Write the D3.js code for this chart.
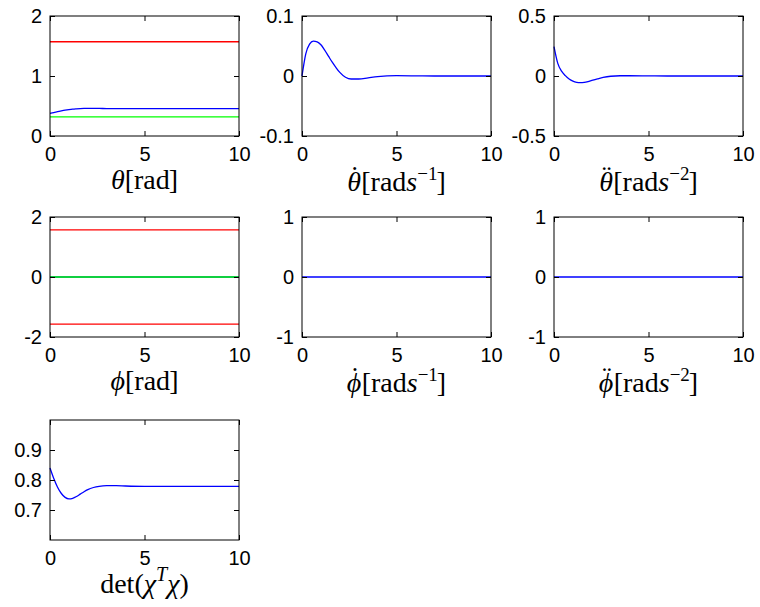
<!DOCTYPE html>
<html>
<head>
<meta charset="utf-8">
<script src="https://cdn.jsdelivr.net/npm/d3@7"></script>
<style>
  body { margin: 0; background: #fff; }
  .tick text { font-family: "Liberation Sans", Arial, sans-serif; font-size: 20px; fill: #000; }
  .tick line { stroke: #000; }
  .xlab { font-family: "Liberation Serif", "DejaVu Serif", serif; fill: #000; }
</style>
</head>
<body>
<div id="chart"></div>
<script>
// sample times
const time = [0, 0.2, 0.4, 0.6, 0.8, 1.0, 1.2, 1.4, 1.6, 1.8, 2.0, 2.3, 2.6, 3.0, 3.5, 4, 5, 6, 7, 8, 9, 10];
const tEnds = [0, 10];

const thetaUpper = [1.5708, 1.5708];
const thetaLower = [0.32, 0.32];
const theta = [0.378, 0.39, 0.405, 0.418, 0.43, 0.44, 0.448, 0.453, 0.457, 0.459, 0.46, 0.46, 0.459, 0.457, 0.456, 0.455, 0.455, 0.455, 0.455, 0.455, 0.455, 0.455];
const thetaDot = [0, 0.037, 0.053, 0.058, 0.057, 0.052, 0.043, 0.033, 0.023, 0.014, 0.006, -0.002, -0.005, -0.005, -0.003, -0.001, 0.0005, 0.0003, 0, 0, 0, 0];
const thetaDDot = [0.245, 0.105, 0.04, 0.003, -0.025, -0.043, -0.053, -0.056, -0.053, -0.046, -0.037, -0.024, -0.012, -0.002, 0.002, 0.002, 0.001, 0, 0, 0, 0, 0];

const phiUpper = [1.5708, 1.5708];
const phiLower = [-1.5708, -1.5708];
const phiRef = [0, 0];
const phi = [0, 0];
const phiDot = [0, 0];
const phiDDot = [0, 0];

const detChi = [0.84, 0.805, 0.776, 0.755, 0.742, 0.737, 0.739, 0.745, 0.753, 0.761, 0.768, 0.775, 0.779, 0.781, 0.781, 0.78, 0.779, 0.779, 0.779, 0.779, 0.779, 0.779];

const xTicks = [0, 5, 10];

const W = 760, H = 607;
const PW = 189, PH = 120;
const colX = [50, 302, 554];
const rowY = [16, 217, 420];

// label pieces: accent sits over the symbol
function rateLabel(sym, accent, power) {
  return [
    { t: sym, it: true },
    { t: accent, dx: -11, dy: -6 },
    { t: "[rad", dx: 2, dy: 6 },
    { t: "s", it: true },
    { t: "−" + power, dy: -11, fs: 19 },
    { t: "]", dx: -1, dy: 11 }
  ];
}
const labelTheta = [{ t: "θ", it: true }, { t: "[rad" }, { t: "]", dx: -1 }];
const labelPhi = [{ t: "ϕ", it: true }, { t: "[rad" }, { t: "]", dx: -1 }];
const labelDet = [{ t: "det(" }, { t: "χ", it: true }, { t: "T", it: true, dy: -12, fs: 20 }, { t: "χ", it: true, dy: 12 }, { t: ")" }];

const panels = [
  { col: 0, row: 0, yDomain: [0, 2], yTicks: [0, 1, 2],
    lines: [[tEnds, thetaUpper, "#ff0000"], [tEnds, thetaLower, "#00ff00"], [time, theta, "#0000ff"]],
    label: labelTheta, fs: 28, off: 53 },
  { col: 1, row: 0, yDomain: [-0.1, 0.1], yTicks: [-0.1, 0, 0.1],
    lines: [[time, thetaDot, "#0000ff"]],
    label: rateLabel("θ", "˙", 1), fs: 28, off: 55 },
  { col: 2, row: 0, yDomain: [-0.5, 0.5], yTicks: [-0.5, 0, 0.5],
    lines: [[time, thetaDDot, "#0000ff"]],
    label: rateLabel("θ", "¨", 2), fs: 28, off: 55 },
  { col: 0, row: 1, yDomain: [-2, 2], yTicks: [-2, 0, 2],
    lines: [[tEnds, phiUpper, "#ff0000"], [tEnds, phiLower, "#ff0000"], [tEnds, phi, "#0000ff"], [tEnds, phiRef, "#00ff00"]],
    label: labelPhi, fs: 28, off: 53 },
  { col: 1, row: 1, yDomain: [-1, 1], yTicks: [-1, 0, 1],
    lines: [[tEnds, phiDot, "#0000ff"]],
    label: rateLabel("ϕ", "˙", 1), fs: 28, off: 55 },
  { col: 2, row: 1, yDomain: [-1, 1], yTicks: [-1, 0, 1],
    lines: [[tEnds, phiDDot, "#0000ff"]],
    label: rateLabel("ϕ", "¨", 2), fs: 28, off: 55 },
  { col: 0, row: 2, yDomain: [0.6, 1.0], yTicks: [0.7, 0.8, 0.9],
    lines: [[time, detChi, "#0000ff"]],
    label: labelDet, fs: 28, off: 53 }
];

const svg = d3.select("#chart").append("svg")
  .attr("width", W)
  .attr("height", H)
  .style("background", "#fff");

panels.forEach(p => {
  const g = svg.append("g")
    .attr("transform", `translate(${colX[p.col]},${rowY[p.row]})`);

  const x = d3.scaleLinear().domain([0, 10]).range([0, PW]);
  const y = d3.scaleLinear().domain(p.yDomain).range([PH, 0]);

  const line = d3.line()
    .x(d => x(d[0]))
    .y(d => y(d[1]))
    .curve(d3.curveMonotoneX);

  p.lines.forEach(([ts, vs, color]) => {
    g.append("path")
      .datum(ts.map((t, i) => [t, vs[i]]))
      .attr("fill", "none")
      .attr("stroke", color)
      .attr("stroke-width", 1.3)
      .attr("d", line);
  });

  // axes with inward ticks, mirrored on top and right
  g.append("g")
    .attr("transform", `translate(0,${PH})`)
    .call(d3.axisBottom(x).tickValues(xTicks).tickSize(-5).tickPadding(11).tickFormat(d3.format("d")))
    .call(a => a.select(".domain").remove());
  g.append("g")
    .call(d3.axisTop(x).tickValues(xTicks).tickSize(-5).tickFormat(""))
    .call(a => a.select(".domain").remove());
  g.append("g")
    .call(d3.axisLeft(y).tickValues(p.yTicks).tickSize(-5).tickPadding(8).tickFormat(d => String(+d.toFixed(2))))
    .call(a => a.select(".domain").remove());
  g.append("g")
    .attr("transform", `translate(${PW},0)`)
    .call(d3.axisRight(y).tickValues(p.yTicks).tickSize(-5).tickFormat(""))
    .call(a => a.select(".domain").remove());

  g.append("rect")
    .attr("width", PW)
    .attr("height", PH)
    .attr("fill", "none")
    .attr("stroke", "#000")
    .attr("stroke-width", 1);

  const txt = g.append("text")
    .attr("class", "xlab")
    .attr("font-size", p.fs)
    .attr("x", PW / 2)
    .attr("y", PH + p.off)
    .attr("text-anchor", "middle");
  p.label.forEach(s => {
    const ts = txt.append("tspan").text(s.t);
    if (s.it) ts.attr("font-style", "italic");
    if (s.dy) ts.attr("dy", s.dy);
    if (s.dx) ts.attr("dx", s.dx);
    if (s.fs) ts.attr("font-size", s.fs);
  });
});
</script>
</body>
</html>
